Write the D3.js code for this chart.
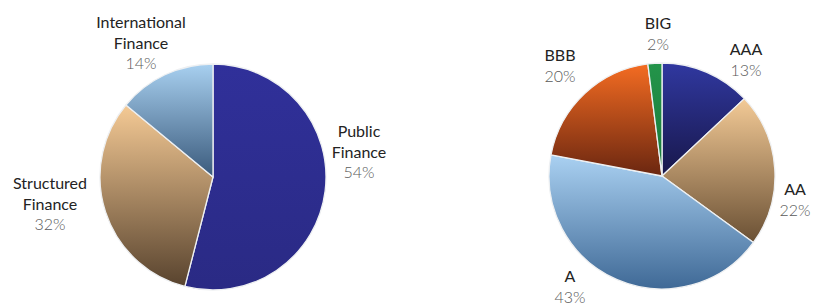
<!DOCTYPE html>
<html>
<head>
<meta charset="utf-8">
<script src="https://cdn.jsdelivr.net/npm/d3@7"></script>
<style>
  html, body { margin: 0; padding: 0; background: #ffffff; }
  svg { display: block; }
  .name { font-family: Lato, "Open Sans", sans-serif; font-size: 16px; fill: #232323; font-weight: 400; }
  .pct { font-family: Lato, "Open Sans", sans-serif; font-size: 16px; fill: #5a5a5a; font-weight: 300; }
</style>
</head>
<body>
<svg id="chart" width="814" height="306"></svg>
<script>
// Left pie: business sector
const sectorNames = ["Public Finance", "Structured Finance", "International Finance"];
const sectorValues = [54, 32, 14];
const sectorLabelLines = [["Public", "Finance"], ["Structured", "Finance"], ["International", "Finance"]];
const sectorColorsTop = ["#30309a", "#f5ca95", "#a8d0f0"];
const sectorColorsBottom = ["#2a2a84", "#58432e", "#3a5a7c"];

// Right pie: rating
const ratingNames = ["AAA", "AA", "A", "BBB", "BIG"];
const ratingValues = [13, 22, 43, 20, 2];
const ratingColorsTop = ["#3038a0", "#f3ca96", "#aad1f2", "#f46c22", "#23944a"];
const ratingColorsBottom = ["#18174a", "#6a5034", "#3f6996", "#6a2610", "#1a7a3a"];

const svg = d3.select("#chart");
const defs = svg.append("defs");

function makeGradient(id, top, bottom) {
  const g = defs.append("linearGradient").attr("id", id)
    .attr("x1", 0).attr("y1", 0).attr("x2", 0).attr("y2", 1);
  g.append("stop").attr("offset", "0%").attr("stop-color", top);
  g.append("stop").attr("offset", "100%").attr("stop-color", bottom);
}

const pie = d3.pie().sort(null).value(d => d);

function drawPie(cx, cy, r, values, prefix, tops, bottoms) {
  const arc = d3.arc().innerRadius(0).outerRadius(r);
  values.forEach((v, i) => makeGradient(prefix + i, tops[i], bottoms[i]));
  const g = svg.append("g").attr("transform", `translate(${cx},${cy})`);
  g.selectAll("path").data(pie(values)).join("path")
    .attr("d", arc)
    .attr("fill", (d, i) => `url(#${prefix}${i})`)
    .attr("stroke", "#eef0f2")
    .attr("stroke-width", 1.3)
    .attr("stroke-linejoin", "round");
}

drawPie(213, 177, 113, sectorValues, "sg", sectorColorsTop, sectorColorsBottom);
drawPie(662, 176, 113, ratingValues, "rg", ratingColorsTop, ratingColorsBottom);

function label(x, y, lines, pct) {
  const t = svg.append("g");
  lines.forEach((ln, k) => {
    t.append("text").attr("class", "name").attr("x", x).attr("y", y + k * 20.5)
      .attr("text-anchor", "middle").text(ln);
  });
  t.append("text").attr("class", "pct").attr("x", x).attr("y", y + lines.length * 20.5)
    .attr("text-anchor", "middle").text(pct + "%");
}

// Left labels
const sectorLabelPos = [[359, 137], [50, 189], [141, 28]];
sectorValues.forEach((v, i) => label(sectorLabelPos[i][0], sectorLabelPos[i][1], sectorLabelLines[i], v));

// Right labels
const ratingLabelPos = [[746, 55], [795, 195], [570, 282], [560, 61], [658, 29]];
ratingValues.forEach((v, i) => label(ratingLabelPos[i][0], ratingLabelPos[i][1], [ratingNames[i]], v));
</script>
</body>
</html>
